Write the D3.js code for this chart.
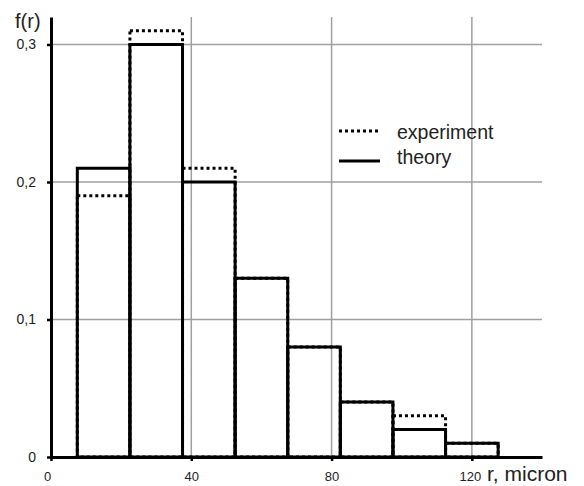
<!DOCTYPE html>
<html>
<head>
<meta charset="utf-8">
<script src="https://cdn.jsdelivr.net/npm/d3@7"></script>
<style>
  body { margin: 0; background: #fff; }
  text { font-family: "Liberation Sans", Arial, sans-serif; fill: #222; }
</style>
</head>
<body>
<svg width="584" height="486"></svg>
<script>
// bin centres (micron), bin width 15
var binCenters = [15, 30, 45, 60, 75, 90, 105, 120];
var binWidth = 15;
var theory = [0.21, 0.30, 0.20, 0.13, 0.08, 0.04, 0.02, 0.01];
var experiment = [0.19, 0.31, 0.21, 0.13, 0.08, 0.04, 0.03, 0.01];
var xTicks = [0, 40, 80, 120];
var yTicks = [0, 0.1, 0.2, 0.3];
var legendLabels = ["experiment", "theory"];

var svg = d3.select("svg");

var x = d3.scaleLinear().domain([0, 140]).range([51, 542]);
var y = d3.scaleLinear().domain([0, 0.32]).range([457, 17]);

var locale = d3.formatLocale({decimal: ",", thousands: " ", grouping: [3], currency: ["", ""]});
var fmt = locale.format(".1f");

// grid
var grid = svg.append("g").attr("stroke", "#a0a0a0").attr("stroke-width", 1.5);
grid.selectAll(".vg")
  .data(xTicks.filter(function(d) { return d > 0; }))
  .enter().append("line")
  .attr("x1", function(d) { return x(d); })
  .attr("x2", function(d) { return x(d); })
  .attr("y1", y(0.32))
  .attr("y2", y(0));
grid.selectAll(".hg")
  .data(yTicks.filter(function(d) { return d > 0; }))
  .enter().append("line")
  .attr("x1", x(0))
  .attr("x2", x(140))
  .attr("y1", function(d) { return y(d); })
  .attr("y2", function(d) { return y(d); });

function bars(data, cls) {
  return svg.append("g")
    .attr("class", cls)
    .selectAll("rect")
    .data(data)
    .enter().append("rect")
    .attr("x", function(d, i) { return x(binCenters[i] - binWidth / 2); })
    .attr("width", function(d, i) { return x(binCenters[i] + binWidth / 2) - x(binCenters[i] - binWidth / 2); })
    .attr("y", function(d) { return y(d); })
    .attr("height", function(d) { return y(0) - y(d); })
    .attr("fill", "none")
    .attr("stroke", "#000")
    .attr("stroke-width", 3);
}

bars(experiment, "experiment").attr("stroke-dasharray", "3,3");
bars(theory, "theory");

// axes
var xAxis = svg.append("g")
  .attr("transform", "translate(0," + y(0) + ")")
  .call(d3.axisBottom(x).tickValues(xTicks).tickSize(4).tickSizeOuter(0).tickPadding(11));
var yAxis = svg.append("g")
  .attr("transform", "translate(" + x(0) + ",0)")
  .call(d3.axisLeft(y).tickValues(yTicks).tickSize(4).tickSizeOuter(0).tickPadding(11)
    .tickFormat(function(d) { return d === 0 ? "0" : fmt(d); }));

[xAxis, yAxis].forEach(function(a) {
  a.select(".domain").attr("stroke", "#000").attr("stroke-width", 3);
  a.selectAll(".tick line").attr("stroke", "#000").attr("stroke-width", 2.5);
  a.selectAll(".tick text").attr("font-size", 14).attr("font-family", "Liberation Sans, Arial, sans-serif").attr("fill", "#222");
});
xAxis.selectAll(".tick text").attr("font-size", 13);
xAxis.selectAll(".tick").filter(function(d) { return d === 0; }).select("text").attr("dx", "-4");
xAxis.selectAll(".tick").filter(function(d) { return d === 120; }).select("text").attr("dx", "-2");

// axis titles
svg.append("text")
  .attr("x", 15).attr("y", 28)
  .attr("font-size", 20)
  .text("f(r)");
svg.append("text")
  .attr("x", 487).attr("y", 481)
  .attr("font-size", 21)
  .text("r, micron");

// legend
var legend = svg.append("g");
legend.selectAll("line")
  .data(legendLabels)
  .enter().append("line")
  .attr("x1", 339)
  .attr("x2", function(d, i) { return i === 0 ? 378 : 380; })
  .attr("y1", function(d, i) { return 131 + i * 30; })
  .attr("y2", function(d, i) { return 131 + i * 30; })
  .attr("stroke", "#000")
  .attr("stroke-width", 3)
  .attr("stroke-dasharray", function(d, i) { return i === 0 ? "3,3" : null; });
legend.selectAll("text")
  .data(legendLabels)
  .enter().append("text")
  .attr("x", 397)
  .attr("y", function(d, i) { return 139 + i * 25; })
  .attr("font-size", 19.5)
  .text(function(d) { return d; });
</script>
</body>
</html>
